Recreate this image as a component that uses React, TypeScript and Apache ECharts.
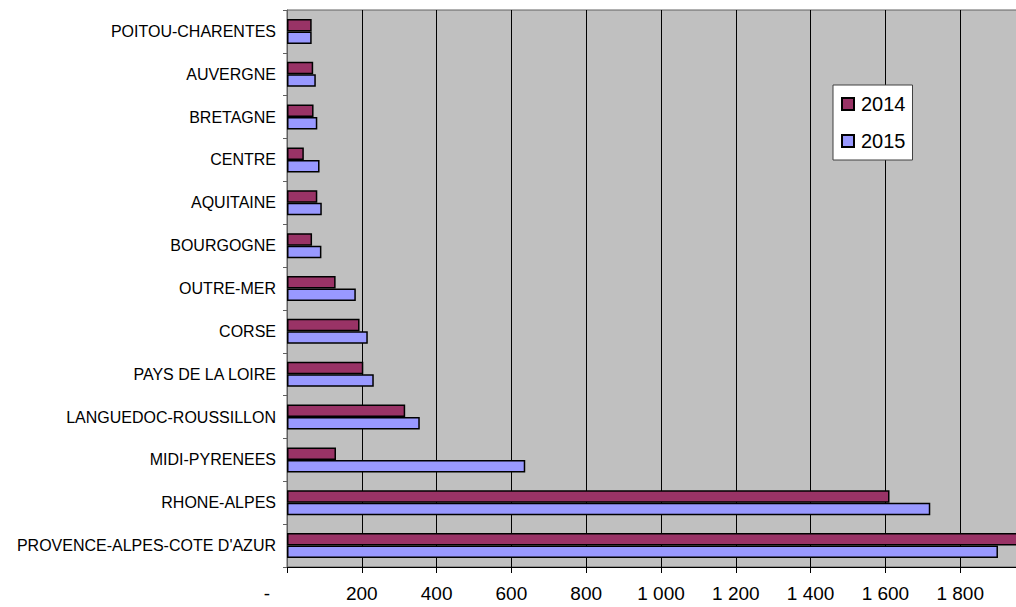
import React, { useEffect, useRef } from "react";
import * as echarts from "echarts";

const regions = [
  "PROVENCE-ALPES-COTE D'AZUR",
  "RHONE-ALPES",
  "MIDI-PYRENEES",
  "LANGUEDOC-ROUSSILLON",
  "PAYS DE LA LOIRE",
  "CORSE",
  "OUTRE-MER",
  "BOURGOGNE",
  "AQUITAINE",
  "CENTRE",
  "BRETAGNE",
  "AUVERGNE",
  "POITOU-CHARENTES",
];

const values2014 = [2010, 1611, 131, 316, 204, 194, 130, 67, 81, 45, 71, 70, 66];
const values2015 = [1901, 1720, 637, 355, 232, 216, 184, 92, 93, 87, 81, 77, 66];

const seriesNames = ["2014", "2015"];
const FONT = "'Liberation Sans', Arial, sans-serif";

function fmt(v: number): string {
  if (v === 0) return "{z|-}";
  if (v >= 1900) return "";
  const s = String(v);
  return s.length > 3 ? s.slice(0, s.length - 3) + " " + s.slice(-3) : s;
}

export default function App() {
  const ref = useRef<HTMLDivElement>(null);
  useEffect(() => {
    if (!ref.current) return;
    const chart = echarts.init(ref.current, undefined, { renderer: "svg" });
    chart.setOption({
      animation: false,
      backgroundColor: "#ffffff",
      textStyle: { fontFamily: FONT },
      grid: {
        left: 287,
        right: 5,
        top: 10,
        bottom: 40,
        show: true,
        backgroundColor: "#C0C0C0",
        borderColor: "#606060",
        borderWidth: 1,
      },
      legend: {
        orient: "vertical",
        left: 833,
        top: 85,
        width: 83,
        padding: [9, 7, 9, 8],
        itemGap: 17,
        itemWidth: 12,
        itemHeight: 12,
        backgroundColor: "#ffffff",
        borderColor: "#404040",
        borderWidth: 1,
        borderRadius: 0,
        icon: "rect",
        textStyle: { fontSize: 20, color: "#000", fontFamily: FONT, padding: [0, 0, 0, 2] },
        data: seriesNames,
      },
      xAxis: {
        type: "value",
        min: 0,
        max: 2000,
        interval: 200,
        axisLine: { show: true, lineStyle: { color: "#000", width: 1 } },
        axisTick: { show: true, length: 6, lineStyle: { color: "#000" } },
        splitLine: { show: true, lineStyle: { color: "#000", width: 1 } },
        axisLabel: {
          fontSize: 19,
          color: "#000",
          fontFamily: FONT,
          margin: 17,
          formatter: (v: number) => fmt(v),
          rich: {
            z: { fontSize: 19, color: "#000", fontFamily: FONT, padding: [0, 40, 0, 0] },
          },
        },
      },
      yAxis: {
        type: "category",
        data: regions,
        axisLine: { show: true, lineStyle: { color: "#606060" } },
        axisTick: { show: true, length: 4, lineStyle: { color: "#606060" } },
        axisLabel: { fontSize: 16, color: "#000", fontFamily: FONT, margin: 11 },
        splitLine: { show: false },
      },
      series: [
        {
          name: seriesNames[0],
          type: "bar",
          data: values2014,
          barWidth: 12.5,
          barGap: "0%",
          itemStyle: { color: "#993366", borderColor: "#000", borderWidth: 1.5 },
        },
        {
          name: seriesNames[1],
          type: "bar",
          data: values2015,
          barWidth: 12.5,
          barGap: "0%",
          itemStyle: { color: "#9999FF", borderColor: "#000", borderWidth: 1.5 },
        },
      ],
    });
    return () => chart.dispose();
  }, []);
  return (
    <div
      ref={ref}
      style={{ position: "fixed", left: 0, top: 0, width: 1040, height: 607 }}
    />
  );
}
